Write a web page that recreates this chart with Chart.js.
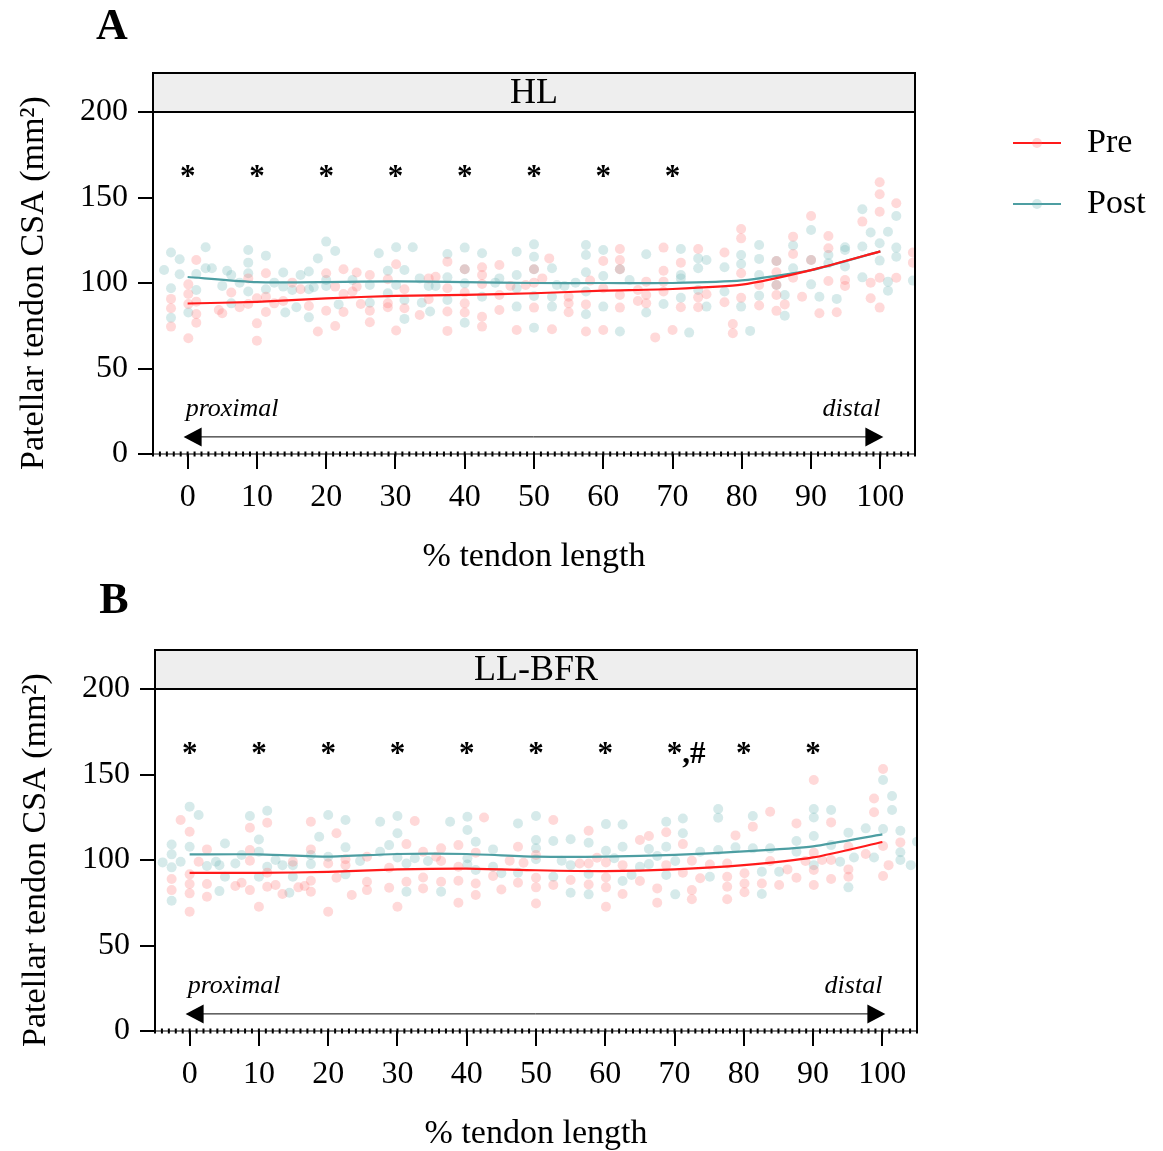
<!DOCTYPE html>
<html>
<head>
<meta charset="utf-8">
<script src="https://cdn.jsdelivr.net/npm/chart.js@4.4.1/dist/chart.umd.min.js"></script>
<style>
  html, body { margin: 0; padding: 0; background: #fff; overflow: hidden; }
  #chartA { position: absolute; left: 0; top: 0; }
  #chartB { position: absolute; left: 2px; top: 577px; }
</style>
</head>
<body>
<canvas id="chartA" width="1163" height="577"></canvas>
<canvas id="chartB" width="1161" height="577"></canvas>
<script>
// ─── Data ────────────────────────────────────────────────────────────────────
const SITES   = [0, 10, 20, 30, 40, 50, 60, 70, 80, 90, 100];
const X_TICKS = [0, 10, 20, 30, 40, 50, 60, 70, 80, 90, 100];
const Y_TICKS = [0, 50, 100, 150, 200];
const SERIES  = ['Pre', 'Post'];
const PANEL_TITLES = ['HL', 'LL-BFR'];

const PRE_MEAN_HL   = [88, 89, 91, 92.5, 93, 94, 95.5, 96.5, 99, 107.5, 118.5];
const POST_MEAN_HL  = [103.5, 100.5, 100.5, 101, 100.5, 100, 100, 100, 101.5, 107.5, 118.5];
const PRE_MEAN_BFR  = [92.5, 92.5, 93, 94.5, 95, 94, 93.5, 94.5, 97, 101.5, 110.5];
const POST_MEAN_BFR = [103.3, 103.3, 102, 103.5, 103.5, 102, 102, 103, 105, 108, 115];

const SIG_HL  = ['*', '*', '*', '*', '*', '*', '*', '*', '', '', ''];
const SIG_BFR = ['*', '*', '*', '*', '*', '*', '*', '*,#', '*', '*', ''];

// individual subjects, [% length (jittered), CSA]
const PRE_PTS_HL = [
  [-2.4,90.7],[-2.4,85.2],[-2.4,74.5],[0.1,99.2],[0.1,93.6],[0.1,87.7],[0.1,67.7],
  [1.25,113.5],[1.25,89.1],[1.25,81.9],[1.25,76.8],[4.5,84.2],[5,82.3],[6.3,94.4],[7.5,85.8],
  [8.75,102.7],[8.75,87.7],[10,91.1],[10,76.4],[10,66.3],[11.3,105.7],[11.3,92],[11.3,83],
  [12.5,88.1],[13.8,89.5],[15.1,100.2],[16.3,96.3],[17.5,86.6],[18.8,71.6],
  [20,105.7],[20,83.8],[21.3,97.9],[21.3,74.9],[22.5,108],[22.5,93.6],[22.5,83],[23.8,95],
  [24.4,106.1],[24.4,97.9],[25,87.7],[26.3,104.7],[26.3,83.8],[26.3,77],
  [28.9,102.2],[28.9,88.1],[28.9,85.8],[30.1,111],[30.1,72.2],[31.3,96.3],[31.3,85.2],
  [33.5,81.3],[34.8,102.7],[34.8,90.5],[35.8,103.7],[37.5,112.5],[37.5,96.9],[37.5,83.3],[37.5,72],
  [40,108],[40,94.4],[40,88.1],[40,82.7],[42.5,109.2],[42.5,104.7],[42.5,99.4],[42.5,80.3],[42.5,74.5],
  [45,110.5],[45,93],[45,84.2],[46.6,98.3],[47.5,72.5],[48.8,98.8],[50,108],[50,100.2],[50,85.6],
  [51.2,102.7],[52.2,114.4],[52.6,73],[55,92],[55,88.1],[55,82.9],[57.5,87.5],[57.5,71.6],[58.1,101.4],
  [60,112.9],[60,96.9],[60,72.5],[62.4,119.9],[62.4,113.5],[62.4,108],[62.4,93],[62.4,85.6],
  [65,95.9],[65,89.5],[66.2,100.8],[66.2,93],[66.2,88.1],[67.5,68.2],
  [68.7,120.7],[68.7,107.2],[68.7,100.8],[68.7,95],[70,72.5],[71.2,111.9],[71.2,85.8],
  [73.7,119.9],[73.7,91.6],[73.7,85.8],[74.9,93.4],[77.5,117.8],[77.5,88.7],[78.7,76],[78.7,70.6],
  [79.9,131.6],[79.9,126.1],[79.9,105.7],[79.9,91.4],[82.5,98.8],[82.5,86.8],
  [85,112.9],[85,106.3],[85,98.8],[85,93],[85,83.7],[86.2,87.5],[87.4,127.1],[87.4,117],[87.4,103.1],
  [88.7,92],[90,139.2],[90,113.5],[91.2,82.3],[92.5,127.5],[92.5,120.3],[92.5,101.2],[93.7,82.9],
  [94.9,101.8],[94.9,98.3],[97.4,135.9],[98.6,100.2],[98.6,91.1],
  [99.9,158.9],[99.9,151.9],[99.9,141.7],[99.9,103.1],[99.9,85.6],[102.3,146.6],[102.3,103.1],
  [104.7,117.8],[104.7,111.9]
];
const POST_PTS_HL = [
  [-3.4,107.6],[-2.4,117.8],[-2.4,96.9],[-2.4,79.7],[-1.15,113.9],[-1.15,105.1],[0.1,82.7],
  [1.25,105.3],[1.25,95.9],[2.6,120.9],[2.6,108.6],[3.5,108.6],[5,98.3],[5.7,107.2],[6.3,88.1],[6.3,104.7],
  [7.5,100.2],[8.75,119.3],[8.75,111.9],[8.75,105.7],[8.75,95],[11.3,116],[11.3,96.3],[12.5,100.2],
  [13.8,106.1],[13.8,97.9],[14.1,82.7],[15.1,95.9],[15.7,85.8],[16.3,104.7],
  [17.5,106.7],[17.5,96.3],[17.5,79.9],[18.2,97.5],[18.8,114.4],[20,124.2],[20,101.8],[20,98.3],
  [21.3,118.7],[21.8,87.5],[23.8,101.8],[26.3,98.8],[26.3,88.5],[27.6,117.4],[28.9,107.2],[28.9,94],
  [30.1,120.9],[30.1,98.8],[31.3,107.6],[31.3,90.1],[31.3,79],[32.5,120.9],[33.5,102.7],[33.8,88.5],
  [34.8,98.3],[35,83.3],[35.8,98.3],[37.5,117],[37.5,103.3],[37.5,90.1],
  [40,120.7],[40,108],[40,99.8],[40,76.8],[42.5,117.4],[42.5,92],[44.4,100.2],[45,102.7],
  [47.5,118.3],[47.5,104.7],[47.5,96.9],[47.5,86.2],[50,122.6],[50,115.4],[50,108],[50,92.4],[50,73.9],
  [52.6,108.6],[52.6,92],[52.6,86.2],[53.3,98.8],[54.4,98.3],[56,100.2],
  [57.5,122.2],[57.5,116.4],[57.5,106.3],[57.5,95],[57.5,81.7],[60,119.3],[60,104.1],[60,86.2],
  [62.4,108],[62.4,71.6],[63.8,101.8],[66.2,116.8],[66.2,82.7],[68.7,87.7],
  [71.2,119.9],[71.2,104.7],[71.2,102.7],[71.2,91.4],[72.4,71],[73.7,114.4],[73.7,108.6],[73.7,95.9],
  [74.9,113.5],[74.9,86.2],[77.5,109.2],[77.5,95],[79.9,116.4],[79.9,111.1],[79.9,86.2],[81.2,72],
  [82.5,122.2],[82.5,114.1],[82.5,104.7],[82.5,92.6],[85,112.9],[85,98.8],[86.2,93],[86.2,80.9],
  [87.4,121.9],[87.4,108.6],[90,131],[90,113.5],[90,99.2],[91.2,92],[92.5,116.4],[92.5,111.5],
  [93.7,90.7],[94.9,120.9],[94.9,119.3],[94.9,109.6],[97.4,143.1],[97.4,121.3],[97.4,103.3],
  [98.6,129.5],[99.9,123.2],[99.9,113.1],[101.1,130],[101.1,100.8],[101.1,95.5],
  [102.3,139.2],[102.3,120.7],[102.3,115.4],[104.7,101.4]
];
const PRE_PTS_BFR = [
  [-2.6,88.9],[-2.6,82.4],[-1.3,123.4],[0,116.5],[0,91.6],[0,86],[0,80.5],[0,69.8],[1.3,99],
  [2.5,106.2],[2.5,86],[2.5,78.5],[6.6,84.8],[7.5,86.7],[8.7,118.9],[8.7,105.8],[8.7,99.6],[8.7,82.4],
  [10,72.7],[11.2,121.8],[11.2,92.6],[11.2,84.4],[12.4,85.4],[13.4,80.1],[14.9,99],[15.7,84],[16.6,84.8],
  [17.5,122.4],[17.5,106.2],[17.5,87.9],[17.5,81.5],[20,98],[20,69.8],[21.2,115.6],[21.2,89.6],
  [22.5,100.4],[22.5,97],[23.4,79.5],[25.6,101.9],[25.6,87.3],[25.6,82.4],[28.8,95.5],[28.8,83.8],
  [30,72.7],[31.3,109.3],[31.3,87.3],[32.5,122.8],[33.7,104.8],[33.7,89.8],[33.7,83.4],[35.6,101.9],
  [36.3,106.8],[36.3,99.4],[36.3,87.3],[38.8,108.7],[38.8,96.1],[38.8,87.9],[38.8,75],
  [41.3,104.3],[41.3,86.3],[41.3,79.5],[42.5,124.9],[43.8,90.6],[45,82.8],[46.2,99.6],
  [47.4,107.8],[47.4,86.7],[48.2,98.4],[50,102.9],[50,89.6],[50,84],[50,74.6],
  [52.5,123.4],[52.5,85.4],[55,88.3],[56.3,98],[57.6,117.1],[57.6,98],[57.6,85.7],[58.8,101.3],
  [60.1,98.6],[60.1,89.8],[60.1,84],[60.1,72.7],[62.5,97],[62.5,80.1],[65,111.7],[65,87.7],[66.3,114],
  [67.5,83.4],[67.5,75],[68.8,116.2],[68.8,97],[71.2,109.3],[71.2,92.6],[72.5,99.6],[72.5,82.4],[72.5,77],
  [73.7,89.3],[75.1,97.4],[77.6,98],[77.6,90.2],[77.6,84.4],[77.6,77],[78.8,114.4],
  [80.1,92.2],[80.1,86.3],[80.1,81.1],[81.3,119.5],[82.6,86.3],[83.8,128.2],[83.8,99.4],
  [85.1,85.4],[86.3,94.5],[87.6,121.4],[87.6,89.6],[88.9,99.4],
  [90.1,146.8],[90.1,104.3],[90.1,94.1],[90.1,85.4],[91.3,100],[92.6,122],[92.6,100],[92.6,88.9],
  [95.1,107.8],[95.1,94.5],[95.1,90.2],[97.6,103.5],[98.8,136],[98.8,127.9],
  [100.1,153.2],[100.1,108.2],[100.1,90.6],[100.9,97],[102.6,110.3]
];
const POST_PTS_BFR = [
  [-3.9,98.6],[-2.6,109.1],[-2.6,103.3],[-2.6,95.7],[-2.6,76.2],[-1.3,99],[0,131.2],[0,107.8],
  [1.3,126.3],[2.5,96.5],[3.8,99],[4.3,81.8],[4.3,97],[5.1,109.7],[5.1,90.2],[6.6,98],[7.5,102.9],
  [8.7,125.7],[10,112],[10,104.8],[10,90.2],[11.2,128.8],[11.2,96.1],[12.4,100],[13.4,97],[14.4,80.9],
  [14.9,97],[14.9,90.2],[17.5,102.9],[17.5,97.6],[18.7,113.6],[20,126.3],[20,101.9],
  [22.5,123.4],[22.5,107.4],[22.5,91.6],[24.6,99.4],[27.5,122.4],[27.5,104.8],[28.8,108.7],
  [30,125.7],[30,115.6],[30,101.5],[31.3,98],[31.3,81.5],[32.5,101],[34.4,99.4],[36.3,81.5],[37.6,122.4],
  [40.1,125.3],[40.1,117.5],[40.1,101],[40.1,97.4],[41.3,110.7],[41.3,94.1],[43.8,106.2],[43.8,96.1],
  [45,92.2],[47.4,121.4],[47.4,92.6],[50,125.7],[50,111.7],[50,106.8],[50,100.4],
  [52.5,111.1],[52.5,90.2],[53.7,99.6],[55,112.1],[55,97],[55,80.9],[57.6,110.1],[57.6,91.8],[57.6,79.9],
  [60.1,121],[60.1,105.4],[61.3,101],[62.5,120.8],[62.5,107.8],[62.5,87.7],[63.8,91.2],[65,96.1],
  [66.3,106.4],[66.3,97.6],[67.5,102.3],[68.8,122.4],[68.8,107.8],[68.8,91.2],[70.1,99.4],[70.1,79.9],
  [71.2,124.3],[71.2,115.6],[73.7,104.8],[75.1,90.2],[76.3,129.8],[76.3,124.7],[76.3,105.8],[78.8,107.4],
  [81.3,125.7],[81.3,106.8],[82.6,93.2],[82.6,80.1],[83.8,106.8],[85.1,93.2],[87.6,111.1],[87.6,104.8],
  [90.1,129.8],[90.1,124.9],[90.1,114],[90.1,97],[92.6,129.2],[92.6,108.7],[93.9,99],[95.1,116],[95.1,84],
  [95.9,101.5],[97.6,118.5],[98.8,101.5],[100.1,146.8],[100.1,118.1],[101.4,137.4],[101.4,129.2],
  [102.6,117.1],[102.6,104.5],[102.6,100],[104.1,97],[105,110.7]
];

// ─── Style ───────────────────────────────────────────────────────────────────
const FONT = "'Liberation Serif', 'Times New Roman', serif";
const RED = '#ff1a1a', TEAL = '#4d9ea2';
const RED_DOT = 'rgba(255,110,110,0.26)', TEAL_DOT = 'rgba(95,172,172,0.26)';
const HEADER_H = 39;
const SIG_Y = 157, ARROW_Y = 10, LABEL_Y = 22;

Chart.defaults.font.family = FONT;
Chart.defaults.color = '#000';

// ─── Decorations: strip header, frame, stars, arrow, legend ─────────────────
const decoPlugin = {
  id: 'deco',
  afterDatasetsDraw(chart, args, opts) {
    const { ctx, scales: { x, y } } = chart;
    ctx.save();
    // significance marks
    ctx.fillStyle = '#000';
    ctx.font = `bold 31px ${FONT}`;
    ctx.textBaseline = 'alphabetic';
    ctx.textAlign = 'left';
    const sw = ctx.measureText('*').width;
    opts.sig.forEach((s, i) => {
      if (!s) return;
      ctx.fillText(s, x.getPixelForValue(SITES[i]) - sw / 2, y.getPixelForValue(SIG_Y));
    });
    // proximal / distal arrow
    const ay = y.getPixelForValue(ARROW_Y);
    const x0 = x.getPixelForValue(0) - 4, x1 = x.getPixelForValue(100) + 3;
    ctx.strokeStyle = '#000'; ctx.lineWidth = 1;
    ctx.beginPath(); ctx.moveTo(x0 + 10, ay); ctx.lineTo(x1 - 10, ay); ctx.stroke();
    ctx.beginPath(); ctx.moveTo(x0, ay); ctx.lineTo(x0 + 18, ay - 9.5); ctx.lineTo(x0 + 18, ay + 9.5); ctx.closePath(); ctx.fill();
    ctx.beginPath(); ctx.moveTo(x1, ay); ctx.lineTo(x1 - 18, ay - 9.5); ctx.lineTo(x1 - 18, ay + 9.5); ctx.closePath(); ctx.fill();
    ctx.font = `italic 26px ${FONT}`;
    const ly = y.getPixelForValue(LABEL_Y);
    ctx.textAlign = 'left';  ctx.fillText('proximal', x.getPixelForValue(0) - 2, ly);
    ctx.textAlign = 'right'; ctx.fillText('distal', x.getPixelForValue(100), ly);
    ctx.restore();
  },
  afterDraw(chart, args, opts) {
    const { ctx, chartArea: a, scales: { x } } = chart;
    ctx.save();
    // strip header
    ctx.fillStyle = '#eeeeee';
    ctx.fillRect(a.left, a.top - HEADER_H, a.right - a.left, HEADER_H);
    ctx.strokeStyle = '#000'; ctx.lineWidth = 2;
    ctx.strokeRect(a.left, a.top - HEADER_H, a.right - a.left, HEADER_H);
    ctx.fillStyle = '#000';
    ctx.font = `36px ${FONT}`;
    ctx.textAlign = 'center'; ctx.textBaseline = 'middle';
    ctx.fillText(opts.title, (a.left + a.right) / 2, a.top - HEADER_H / 2 + 1);
    // right frame
    ctx.beginPath(); ctx.moveTo(a.right, a.top - HEADER_H); ctx.lineTo(a.right, a.bottom); ctx.stroke();
    // dotted x axis line with minor ticks
    ctx.lineWidth = 1;
    ctx.beginPath(); ctx.moveTo(a.left, a.bottom); ctx.lineTo(a.right, a.bottom); ctx.stroke();
    for (let v = x.min; v <= x.max; v += 1) {
      const px = x.getPixelForValue(v);
      ctx.fillRect(px - 1, a.bottom - 2.5, 2, 5);
    }
    // panel letter
    ctx.font = `bold 44px ${FONT}`;
    ctx.fillText(opts.letter, 112, opts.letterY);
    // legend
    if (opts.legend) {
      const items = [
        { label: SERIES[0], line: RED, dot: RED_DOT, y: 143 },
        { label: SERIES[1], line: TEAL, dot: TEAL_DOT, y: 204 },
      ];
      items.forEach(it => {
        ctx.strokeStyle = it.line; ctx.lineWidth = 2;
        ctx.beginPath(); ctx.moveTo(1013, it.y); ctx.lineTo(1061, it.y); ctx.stroke();
        ctx.fillStyle = it.dot;
        ctx.beginPath(); ctx.arc(1037, it.y, 5, 0, Math.PI * 2); ctx.fill();
        ctx.fillStyle = '#000';
        ctx.font = `34px ${FONT}`;
        ctx.textAlign = 'left'; ctx.textBaseline = 'middle';
        ctx.fillText(it.label, 1087, it.y);
      });
    }
    ctx.restore();
  }
};

const toXY = pts => pts.map(([x, y]) => ({ x, y }));
const meanLine = vals => SITES.map((x, i) => ({ x, y: vals[i] }));

function makePanel(canvasId, cfg) {
  const ctx = document.getElementById(canvasId);
  return new Chart(ctx, {
    data: {
      datasets: [
        { type: 'line', label: SERIES[0], data: meanLine(cfg.preMean), borderColor: RED, borderWidth: 2.2,
          pointRadius: 0, tension: 0.2, fill: false },
        { type: 'line', label: SERIES[1], data: meanLine(cfg.postMean), borderColor: TEAL, borderWidth: 2.2,
          pointRadius: 0, tension: 0.2, fill: false },
        { type: 'scatter', label: SERIES[0] + ' subjects', data: toXY(cfg.prePts), pointRadius: 5,
          pointBackgroundColor: RED_DOT, pointBorderWidth: 0, borderColor: 'transparent' },
        { type: 'scatter', label: SERIES[1] + ' subjects', data: toXY(cfg.postPts), pointRadius: 5,
          pointBackgroundColor: TEAL_DOT, pointBorderWidth: 0, borderColor: 'transparent' },
      ]
    },
    options: {
      responsive: false, animation: false, events: [],
      layout: { padding: { top: 112, right: cfg.padRight, left: 0, bottom: 0 } },
      plugins: {
        legend: { display: false }, tooltip: { enabled: false },
        deco: { title: cfg.title, letter: cfg.letter, letterY: cfg.letterY, sig: cfg.sig, legend: cfg.legend }
      },
      scales: {
        x: {
          type: 'linear', min: -5, max: 105,
          afterBuildTicks: s => { s.ticks = X_TICKS.map(v => ({ value: v })); },
          afterFit: s => { s.height = 123; },
          ticks: { font: { size: 32 }, color: '#000', padding: 9, maxRotation: 0, autoSkip: false },
          grid: { drawOnChartArea: false, tickLength: 15, color: '#000', lineWidth: 2 },
          border: { display: false },
          title: { display: true, text: '% tendon length', font: { size: 34 }, color: '#000',
                   padding: { top: 0, bottom: 0 } }
        },
        y: {
          type: 'linear', min: 0, max: 200,
          afterBuildTicks: s => { s.ticks = Y_TICKS.map(v => ({ value: v })); },
          afterFit: s => { s.width = 153; },
          ticks: { font: { size: 32 }, color: '#000', padding: 10 },
          grid: { drawOnChartArea: false, tickLength: 15, color: '#000', lineWidth: 2 },
          border: { display: true, color: '#000', width: 2 },
          title: { display: true, text: 'Patellar tendon CSA (mm²)', font: { size: 34 }, color: '#000',
                   padding: { top: 14, bottom: 0 } }
        }
      }
    },
    plugins: [decoPlugin]
  });
}

makePanel('chartA', {
  title: PANEL_TITLES[0], letter: 'A', letterY: 28, legend: true, padRight: 248,
  preMean: PRE_MEAN_HL, postMean: POST_MEAN_HL, prePts: PRE_PTS_HL, postPts: POST_PTS_HL, sig: SIG_HL
});
makePanel('chartB', {
  title: PANEL_TITLES[1], letter: 'B', letterY: 25, legend: false, padRight: 246,
  preMean: PRE_MEAN_BFR, postMean: POST_MEAN_BFR, prePts: PRE_PTS_BFR, postPts: POST_PTS_BFR, sig: SIG_BFR
});
</script>
</body>
</html>
